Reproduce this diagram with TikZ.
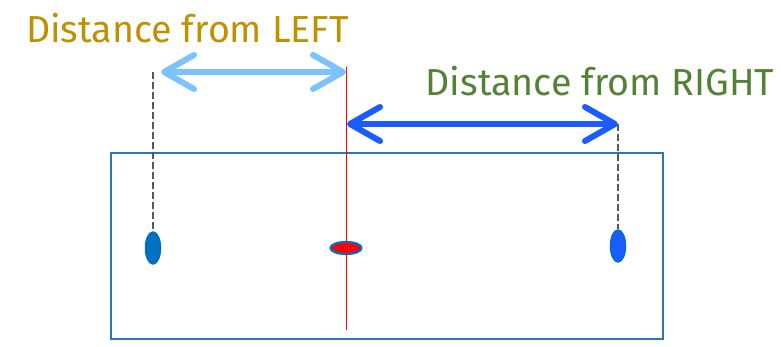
\documentclass[tikz,border=0pt]{standalone}
\usepackage{fontspec}
\setmainfont{Fira Sans}
\usepackage{xcolor}
\usetikzlibrary{positioning,arrows.meta,calc,shapes.geometric}
\definecolor{goldtxt}{HTML}{BF9000}
\definecolor{greentxt}{HTML}{548235}
\definecolor{boxblue}{HTML}{2E75B6}
\definecolor{dotblue}{HTML}{0070C0}
\definecolor{dotbright}{HTML}{1A5CFF}
\definecolor{lightarr}{HTML}{7CC2FF}
\definecolor{darkarr}{HTML}{1A5CFF}
\definecolor{guide}{HTML}{595959}

\begin{document}
\begin{tikzpicture}[
    x=1pt, y=-1pt,
    label/.style={font=\fontsize{37.6}{42}\selectfont, anchor=base, inner sep=0pt},
    dot/.style={ellipse, draw=dotblue, line width=1.5pt, inner sep=0pt},
    guideline/.style={guide, line width=1.3pt, dash pattern=on 7pt off 3pt},
    dim/.style={line width=6pt, {Straight Barb[round,length=30pt,width=34pt]}-{Straight Barb[round,length=30pt,width=34pt]}},
  ]
    \useasboundingbox (0,0) rectangle (781,347);
    \draw[boxblue, line width=2.6pt] (111,153) rectangle (663,339);
    % points
    \node[dot, fill=dotblue, minimum width=15pt, minimum height=32pt] (l) at (153,248) {};
    \node[dot, fill=red, line width=2.2pt, minimum width=31pt, minimum height=12pt] (m) at (346,248) {};
    \node[dot, fill=dotbright, minimum width=15pt, minimum height=32pt] (r) at (618,246) {};
    % reference lines
    \coordinate (ltop) at (153,72);
    \coordinate (rtop) at (618,124);
    \coordinate (mtop) at (346,67);
    \coordinate (mbot) at (346,330);
    \draw[red, line width=1pt] (mtop) -- (mbot);
    \draw[guideline] (ltop) -- (l.north);
    \draw[guideline] (rtop) -- (r.north);
    % distances
    \coordinate (la) at (161,72);
    \coordinate (lb) at (346,72);
    \coordinate (ra) at (347,124);
    \coordinate (rb) at (618,124);
    \draw[dim, lightarr] (la) -- (lb);
    \draw[dim, darkarr] (ra) -- (rb);
    \node[label, text=goldtxt] (tl) at (187.5,43) {Distance from LEFT};
    \node[label, text=greentxt] (tr) at (600,96) {Distance from RIGHT};
  \end{tikzpicture}
\end{document}
